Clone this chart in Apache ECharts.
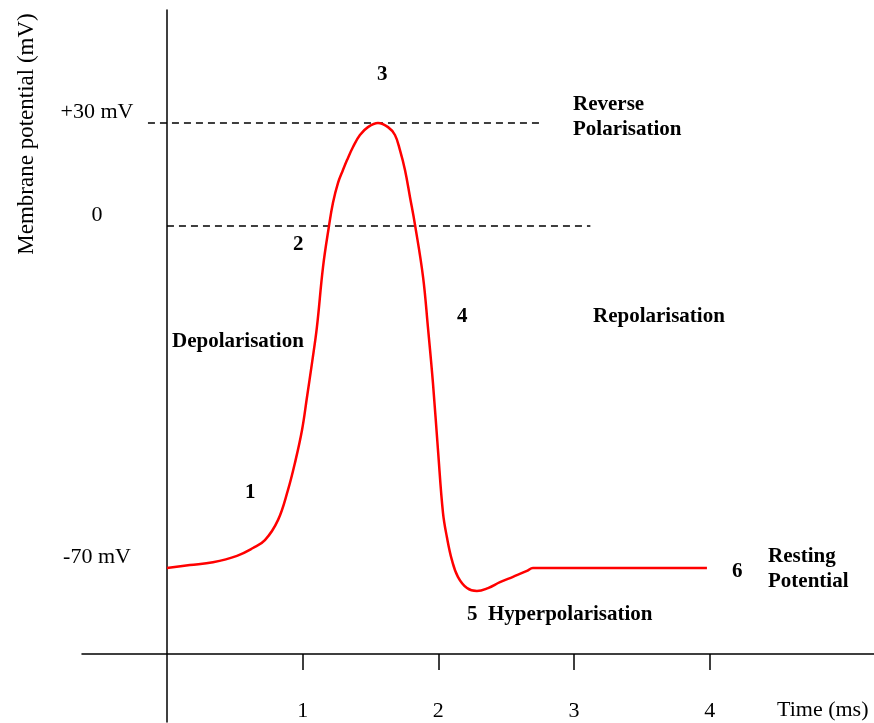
<!DOCTYPE html>
<html>
<head>
<meta charset="utf-8">
<script src="https://cdn.jsdelivr.net/npm/echarts@6/dist/echarts.min.js"></script>
<style>
  html, body { margin: 0; padding: 0; background: #fff; }
  #chart { width: 874px; height: 723px; }
</style>
</head>
<body>
<div id="chart"></div>
<script>
// action potential curve
const timeMs = [0, 0.169, 0.339, 0.516, 0.634, 0.722, 0.818, 0.892, 0.943, 0.995, 1.032, 1.069,
  1.105, 1.150, 1.194, 1.223, 1.260, 1.297, 1.327, 1.371, 1.422, 1.481, 1.555,
  1.629, 1.680, 1.717, 1.754, 1.791, 1.828, 1.887, 1.923, 1.960, 1.997, 2.034,
  2.063, 2.100, 2.144, 2.211, 2.284, 2.366, 2.454, 2.550, 2.653, 2.697, 3.979];
const potentialMv = [-70, -69.4, -68.8, -67.5, -65.9, -64.3, -60.2, -54.0, -48.5, -41.8, -35.0, -28.0,
  -20.7, -8.4, 0, 6.7, 12.5, 16.3, 19.2, 23.0, 26.5, 28.8, 30.0,
  28.8, 26.5, 22.1, 16.3, 8.4, 0.3, -10.4, -20.7, -32.1, -45.8, -58.7,
  -63.7, -68.4, -71.8, -74.1, -74.7, -74.1, -72.9, -71.8, -70.6, -70, -70];
// dashed reference lines
const peakLineX = [-0.14, 2.75];
const zeroLineX = [0, 3.12];
const xTicks = [1, 2, 3, 4];
const yTicks = [-70, 0, 30];
const yTickLabels = ['-70 mV', '0', '+30 mV'];

// the figure is schematic: above 0 mV the scale is squeezed,
// so mV go through a two-part scale before the axis (units = px above the time axis)
const toAxis = v => v <= 0 ? 428 + v * 4.886 : 428 + v * 3.433;

const curve = timeMs.map((t, i) => [t, toAxis(potentialMv[i])]);
const serif = '"Liberation Serif", "Times New Roman", serif';

const chart = echarts.init(document.getElementById('chart'));

const txt = (text, x, y, bold) => ({
  type: 'text', x: x, y: y,
  style: {
    text: text, fill: '#000', fontFamily: serif,
    fontSize: bold ? 21 : 22, fontWeight: bold ? 'bold' : 'normal',
    align: 'left', verticalAlign: 'middle'
  }
});

chart.setOption({
  animation: false,
  grid: { left: 82, right: 0, top: 10, bottom: 1, containLabel: false, outerBoundsMode: 'none' },
  xAxis: {
    type: 'value', min: -0.626, max: 5.21,
    splitLine: { show: false },
    axisLine: { onZero: true, lineStyle: { color: '#000', width: 1.5 } },
    axisTick: { show: true, length: 16, customValues: xTicks, lineStyle: { color: '#000', width: 1.5 } },
    // labels sit at the grid edge, not on the zero line
    axisLabel: { customValues: xTicks, margin: -22, color: '#000', fontFamily: serif, fontSize: 22 }
  },
  yAxis: {
    type: 'value', min: -68, max: 644,
    splitLine: { show: false },
    axisLine: { onZero: true, lineStyle: { color: '#000', width: 1.5 } },
    axisTick: { show: false },
    axisLabel: {
      customValues: yTicks.map(toAxis), margin: -15, align: 'center', verticalAlign: 'bottom',
      color: '#000', fontFamily: serif, fontSize: 22,
      formatter: v => {
        const i = yTicks.findIndex(m => Math.abs(toAxis(m) - v) < 1e-6);
        return i >= 0 ? yTickLabels[i] : '';
      }
    }
  },
  series: [
    {
      type: 'line', symbol: 'none', silent: true,
      data: peakLineX.map(x => [x, toAxis(30)]),
      lineStyle: { color: '#000', width: 1.5, type: [7, 5] }
    },
    {
      type: 'line', symbol: 'none', silent: true,
      data: zeroLineX.map(x => [x, toAxis(0)]),
      lineStyle: { color: '#000', width: 1.5, type: [7, 5] }
    },
    {
      type: 'line', symbol: 'none', smooth: 0.4, silent: true,
      data: curve,
      lineStyle: { color: '#ff0000', width: 2.5 }
    }
  ],
  graphic: [
    {
      type: 'text', x: 27, y: 134, rotation: Math.PI / 2,
      style: {
        text: 'Membrane potential (mV)', fill: '#000', fontFamily: serif, fontSize: 23,
        align: 'center', verticalAlign: 'middle'
      }
    },
    txt('Time (ms)', 777, 710, false),
    txt('1', 245, 493, true),
    txt('2', 293, 245, true),
    txt('3', 377, 75, true),
    txt('4', 457, 317, true),
    txt('5', 467, 615, true),
    txt('6', 732, 572, true),
    txt('Depolarisation', 172, 342, true),
    txt('Reverse', 573, 105, true),
    txt('Polarisation', 573, 130, true),
    txt('Repolarisation', 593, 317, true),
    txt('Hyperpolarisation', 488, 615, true),
    txt('Resting', 768, 557, true),
    txt('Potential', 768, 582, true)
  ]
});
</script>
</body>
</html>
